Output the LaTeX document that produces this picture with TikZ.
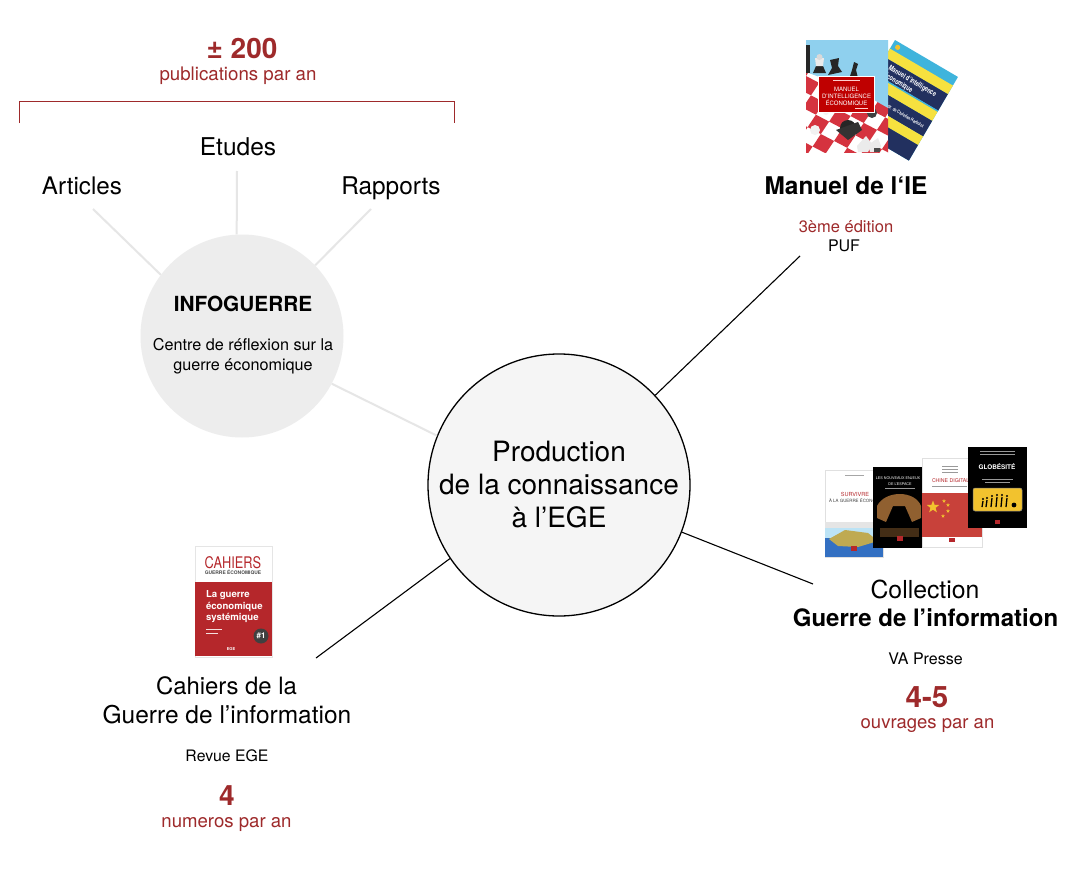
\documentclass[tikz,border=0pt]{standalone}
\usepackage{fontspec}
\setmainfont{TeX Gyre Heros}
\usetikzlibrary{shapes.geometric}
\definecolor{egered}{HTML}{9E2A2B}
\definecolor{softgrey}{HTML}{E6E6E6}
\definecolor{discgrey}{HTML}{EDEDED}
\definecolor{coverred}{HTML}{B5272B}
\definecolor{navy}{HTML}{22305F}
\definecolor{signyellow}{HTML}{F2C22E}
\definecolor{skyblue}{HTML}{8FD0EE}
\definecolor{bandblue}{HTML}{3FB4DC}
\definecolor{bandyellow}{HTML}{F6E13F}
\definecolor{boardred}{HTML}{D5333F}
\definecolor{flagred}{HTML}{C8413A}
\newcommand{\fs}[1]{\fontsize{#1}{#1}\selectfont}
\tikzset{
  lbl/.style={inner sep=0pt,outer sep=0pt,anchor=base,text=black},
  redlbl/.style={lbl,text=egered},
  softline/.style={draw=softgrey,line width=2pt},
  blackline/.style={draw=black,line width=1.1pt},
  covertxt/.style={inner sep=0pt,outer sep=0pt,anchor=center,font=\bfseries\fs{5}},
  smallstar/.style={star,star points=5,star point ratio=2.4,fill=signyellow,inner sep=0pt,minimum size=4pt},
  faint/.style={line width=0.6pt},
}
\begin{document}
\begin{tikzpicture}[x=1pt,y=-1pt]
\useasboundingbox (0,0) rectangle (1080,881);
\fill[white] (0,0) rectangle (1080,881);

% ---------- circles
\node[circle,fill=discgrey,minimum size=203pt,inner sep=0pt] (info) at (242,336) {};
\node[lbl,font=\bfseries\fs{20.8}] (infot) at (243,311) {INFOGUERRE};
\node[lbl,font=\fs{16.2}] (infoa) at (243,350) {Centre de réflexion sur la};
\node[lbl,font=\fs{16.2}] (infob) at (243,370) {guerre économique};
\node[circle,draw=black,line width=1.3pt,fill=white!96!black,minimum size=262pt,inner sep=0pt,align=center,font=\fontsize{28}{33}\selectfont] (centre) at (559,485) {Production\\de la connaissance\\à l’EGE};

% ---------- free ends
\coordinate (eArt) at (93,209);
\coordinate (eEtu) at (237,171);
\coordinate (eRap) at (371,209);
\coordinate (eMan) at (800,256);
\coordinate (eCol) at (813,584);
\coordinate (eCah) at (316,658);

% ---------- connectors
\draw[softline] (info.143.4) -- (eArt);
\draw[softline] (info.93) -- (eEtu);
\draw[softline] (info.44.6) -- (eRap);
\draw[softline] (info.-28) -- (centre.158.3);
\draw[blackline] (centre.43.4) -- (eMan);
\draw[blackline] (centre.-21.9) -- (eCol);
\draw[blackline] (centre.214) -- (eCah);

% ---------- bracket
\coordinate (brA) at (19,123);
\coordinate (brB) at (454,123);
\draw[egered,line width=1pt] (brA) -- (19,101) -- (454,101) -- (brB);

% ---------- top-left labels
\node[redlbl,font=\bfseries\fs{28}] (n200) at (242,58) {± 200};
\node[redlbl,font=\fs{18.7}] (npub) at (238,80.5) {publications par an};
\node[lbl,font=\fs{24.5}] (etudes) at (238,155.5) {Etudes};
\node[lbl,font=\fs{24.2}] (articles) at (82,194) {Articles};
\node[lbl,font=\fs{24.4}] (rapports) at (391,194) {Rapports};

% ---------- Manuel labels
\node[lbl,font=\bfseries\fs{24.4}] (manuel) at (846,194.5) {Manuel de l‘IE};
\node[redlbl,font=\fs{16.5}] (edition) at (846,232.5) {3ème édition};
\node[lbl,font=\fs{16}] (puf) at (844,251.5) {PUF};

% ---------- Collection labels
\node[lbl,font=\fs{24.8}] (coll) at (925,598) {Collection};
\node[lbl,font=\bfseries\fs{24}] (guerre) at (925.5,626.5) {Guerre de l’information};
\node[lbl,font=\fs{16}] (va) at (925.5,664.5) {VA Presse};
\node[redlbl,font=\bfseries\fs{29.5}] (n45) at (927,707) {4-5};
\node[redlbl,font=\fs{18.5}] (nouv) at (927.5,728) {ouvrages par an};

% ---------- Cahiers labels
\node[lbl,font=\fs{23.9}] (cah) at (226.5,694.5) {Cahiers de la};
\node[lbl,font=\fs{24.5}] (cahb) at (227,723.5) {Guerre de l’information};
\node[lbl,font=\fs{15.8}] (revue) at (227,761.5) {Revue EGE};
\node[redlbl,font=\bfseries\fs{28}] (n4) at (227,805) {4};
\node[redlbl,font=\fs{18.6}] (nnum) at (226.5,827.5) {numeros par an};

% ========== Manuel covers
% yellow/navy book, rotated
\begin{scope}[shift={(895,40)},rotate=-30.4]
\fill[bandblue] (0,0) rectangle (73,97);
\fill[bandyellow] (0,10) rectangle (73,20);
\fill[navy] (0,20) rectangle (73,39);
\fill[bandblue] (0,39) rectangle (73,40.5);
\fill[bandyellow] (0,40.5) rectangle (73,51);
\fill[navy] (0,51) rectangle (73,69);
\fill[bandyellow] (0,69) rectangle (73,79);
\fill[navy] (0,79) rectangle (73,97);
\fill[bandblue] (16,88) rectangle (30,97);
\fill[signyellow] (6,5) circle (2.6);
\node[covertxt,rotate=-30.4,text=white,font=\bfseries\fs{7.4},anchor=base west] (m2t) at (9,29) {\scalebox{0.72}[1]{Manuel d’intelligence}};
\node[covertxt,rotate=-30.4,text=white,font=\bfseries\fs{7.4},anchor=base west] (m2u) at (9,37.5) {\scalebox{0.72}[1]{économique}};
\node[covertxt,rotate=-30.4,text=white,font=\bfseries\fs{4.6},anchor=base west] (m2s) at (14,62) {\scalebox{0.75}[1]{sous la dir. de Christian Harbulot}};
\end{scope}
% chess book
\begin{scope}
\fill[white] (806,40) rectangle (888,152);
\clip (806,40) rectangle (888,152);
\begin{scope}[shift={(806,76)}]
\begin{scope}[cm={0.88,-0.46,0.55,0.83,(0pt,0pt)}]
\foreach \i in {-6,...,10}{\foreach \j in {-2,...,10}{
  \pgfmathparse{int(mod(\i+\j+40,2))}
  \ifnum\pgfmathresult=0
    \fill[boardred] (\i*15,\j*15) rectangle (\i*15+15,\j*15+15);
  \fi
}}
\end{scope}
\end{scope}
\fill[skyblue] (806,40) -- (888,40) -- (888,108) -- (860,92) -- (806,72) -- cycle;
% pieces
\fill[black!85] (806,45) rectangle (810,73);
\fill[black!85] (813,73) -- (826,73) -- (823,66) -- (816,66) -- cycle;
\fill[black!8!white] (816,66) -- (823,66) -- (824,58) -- (815,58) -- cycle;
\fill[black!15!white] (819.5,57) circle (3);
\fill[black!85] (828,75) -- (842,72) -- (838,66) -- (839,58) -- (830,60) -- (832,68) -- cycle;
\fill[black!85] (850,76) -- (858,78) -- (856,70) -- (858,64) -- (854,62) -- (852,70) -- cycle;
\fill[black!85] (848,128) circle (8);
\fill[black!80] (836,130) -- (858,122) -- (862,130) -- (848,140) -- cycle;
\fill[black!8!white] (857,146) -- (866,136) -- (872,144) -- (868,152) -- (858,152) -- cycle;
\fill[black!8!white] (868,145) -- (878,138) -- (881,146) -- (878,152) -- (870,152) -- cycle;
\fill[black!75] (872,113) circle (5);
\fill[black!70] (874,148) rectangle (880,152);
\fill[black!5!white] (815,130) circle (5);
\fill[black!5!white] (826,112) circle (3);
% title panel
\node[draw=white,line width=0.8pt,fill=red!75!black,minimum width=56pt,minimum height=36pt,inner sep=0pt] (m1box) at (846.5,94) {};
\draw[white!80!red,faint] (833,80) -- (860,80);
\node[covertxt,text=white,font=\fs{6}] (m1a) at (846.5,89) {MANUEL};
\node[covertxt,text=white,font=\fs{6}] (m1b) at (846.5,96) {D’INTELLIGENCE};
\node[covertxt,text=white,font=\fs{6}] (m1c) at (846.5,103) {ÉCONOMIQUE};
\draw[white!80!red,faint] (855,108) -- (868,108);
\end{scope}

% ========== Collection covers
% book A
\begin{scope}
\node[draw=black!12,line width=0.5pt,fill=white,minimum width=58pt,minimum height=87pt,inner sep=0pt] (bookA) at (854,513.5) {};
\clip (825,470) rectangle (883,557);
\draw[black!35,faint] (845,475) -- (864,475);
\fill[black!10] (825,522) rectangle (883,531);
\fill[skyblue!60!white] (825,528) rectangle (883,538);
\fill[teal!60!blue!80!white] (825,538) rectangle (883,557);
\fill[olive!50!brown!75!white] (829,539) -- (845,530) -- (868,533) -- (878,541) -- (858,547) -- (838,546) -- cycle;
\fill[coverred] (851,546) rectangle (857,551);
\node[covertxt,text=coverred,font=\fs{5.6}] (bAt) at (855,494) {SURVIVRE};
\node[covertxt,text=black!75,font=\fs{4.4},anchor=west] (bAs) at (829,500.5) {À LA GUERRE ÉCONOMIQUE};
\end{scope}
% book B
\begin{scope}
\node[fill=black,minimum width=54pt,minimum height=81pt,inner sep=0pt] (bookB) at (900,507.5) {};
\clip (873,467) rectangle (927,548);
\fill[brown!75!black] (877,506) .. controls (885,490) and (915,490) .. (921,506) -- (921,518) -- (912,522) -- (905,506) -- (893,506) -- (886,522) -- (877,518) -- cycle;
\fill[brown!35!black] (880,528) rectangle (919,537);
\node[covertxt,text=white,font=\fs{3.7}] (bBa) at (898,478) {LES NOUVEAUX ENJEUX};
\node[covertxt,text=white,font=\fs{3.7}] (bBb) at (900,484) {DE L’ESPACE};
\draw[white!60!black,faint] (885,488.5) -- (915,488.5);
\fill[coverred] (897,536) rectangle (903,541);
\end{scope}
% book C
\begin{scope}
\node[draw=black!12,line width=0.5pt,fill=white,minimum width=60pt,minimum height=89pt,inner sep=0pt] (bookC) at (952,502.5) {};
\clip (922,458) rectangle (982,547);
\draw[black!40,faint] (942,466) -- (958,466) (942,469) -- (958,469) (942,472) -- (958,472);
\fill[flagred] (922,493) rectangle (982,537);
\node[covertxt,text=coverred,font=\fs{5.2},anchor=west] (bCt) at (932,481) {CHINE DIGITALE};
\draw[black!40,faint] (932,486) -- (967,486);
\node[star,star points=5,star point ratio=2.4,fill=signyellow,inner sep=0pt,minimum size=13pt] (s0) at (933,507) {};
\node[smallstar] (s1) at (944,501) {};
\node[smallstar] (s2) at (948,505) {};
\node[smallstar] (s3) at (948,511) {};
\node[smallstar] (s4) at (943,516) {};
\fill[coverred] (949,538) rectangle (955,542);
\end{scope}
% book D
\begin{scope}
\node[fill=black,minimum width=59pt,minimum height=81pt,inner sep=0pt] (bookD) at (997.5,487.5) {};
\draw[white!60!black,faint] (980,451) -- (1015,451) (980,454.5) -- (1015,454.5) (982,479.5) -- (1013,479.5) (985,482.5) -- (1010,482.5);
\node[covertxt,text=white,font=\bfseries\fs{6.4}] (bDt) at (997,466.5) {GLOBÉSITÉ};
\node[draw=black!50,line width=0.5pt,fill=signyellow,rounded corners=2pt,minimum width=49pt,minimum height=23pt,inner sep=0pt] (sign) at (997.5,499.5) {};
\foreach \x/\h in {982/8,986/9,991/11,996/12,1001/12,1006/11}{
  \draw[black,line width=1.3pt] (\x,507) -- (\x+1,507-\h+2);
  \fill[black] (\x+1,507-\h) circle (1.1);
}
\fill[black] (1014,505) circle (2.4);
\fill[coverred] (995,520) rectangle (1000,524);
\end{scope}

% ========== Cahiers cover
\node[draw=black!10,line width=0.5pt,fill=white,minimum width=77pt,minimum height=111pt,inner sep=0pt] (cover) at (233.5,601.5) {};
\fill[coverred] (195,582) rectangle (272,656);
\node[covertxt,text=coverred,font=\fs{16}] (cCa) at (233,563) {\scalebox{0.8}[1]{CAHIERS}};
\node[covertxt,text=black!70,font=\bfseries\fs{4.9}] (cCb) at (233,572) {GUERRE ÉCONOMIQUE};
\node[covertxt,text=white,anchor=west,font=\bfseries\fs{9.6}] (cCc) at (206,595) {La guerre};
\node[covertxt,text=white,anchor=west,font=\bfseries\fs{9.6}] (cCd) at (206,607) {économique};
\node[covertxt,text=white,anchor=west,font=\bfseries\fs{9.6}] (cCe) at (206,618) {systémique};
\draw[white!85!coverred,faint] (206,629) -- (222,629) (206,633) -- (218,633);
\node[circle,fill=black!75,inner sep=0pt,minimum size=15pt] (cCf) at (261,636) {};
\node[covertxt,text=white,font=\bfseries\fs{8}] (cCg) at (261,636) {\#1};
\node[covertxt,text=white,font=\bfseries\fs{4}] (cCh) at (231,649) {EGE};
\end{tikzpicture}
\end{document}
